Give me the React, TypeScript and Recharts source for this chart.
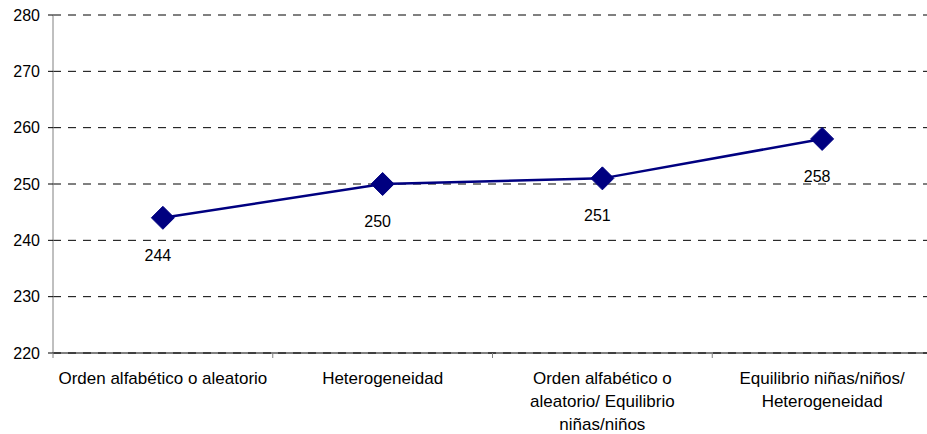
import { LineChart, Line, XAxis, YAxis, CartesianGrid, LabelList } from "recharts";

const categories = [
  "Orden alfabético o aleatorio",
  "Heterogeneidad",
  "Orden alfabético o aleatorio/ Equilibrio niñas/niños",
  "Equilibrio niñas/niños/ Heterogeneidad",
];
const tickLines = [
  ["Orden alfabético o aleatorio"],
  ["Heterogeneidad"],
  ["Orden alfabético o", "aleatorio/ Equilibrio", "niñas/niños"],
  ["Equilibrio niñas/niños/", "Heterogeneidad"],
];
const values = [244, 250, 251, 258];
const yTicks = [220, 230, 240, 250, 260, 270, 280];

const data = categories.map((name, i) => ({ name, value: values[i] }));

const CHART_W = 935;
const CHART_H = 434;
const PLOT_LEFT = 53;
const PLOT_RIGHT = 932;
const PLOT_TOP = 15;
const PLOT_BOTTOM = 353;
const BAND = (PLOT_RIGHT - PLOT_LEFT) / categories.length;
const FONT = "'Liberation Sans', Arial, sans-serif";
const NAVY = "#000080";

function CategoryTick(props: any) {
  const { x, index } = props;
  const y = PLOT_BOTTOM;
  const lines = tickLines[index] ?? [];
  return (
    <g>
      <line x1={x - BAND / 2} x2={x - BAND / 2} y1={y} y2={y + 5} stroke="#808080" />
      {lines.map((ln, i) => (
        <text
          key={i}
          x={x}
          y={y + 31 + i * 23}
          textAnchor="middle"
          fontSize={17}
          fontFamily={FONT}
          fill="#000"
        >
          {ln}
        </text>
      ))}
    </g>
  );
}

function Diamond(props: any) {
  const { cx, cy } = props;
  if (cx == null || cy == null) return null;
  const r = 11.5;
  return (
    <polygon
      points={`${cx},${cy - r} ${cx + r},${cy} ${cx},${cy + r} ${cx - r},${cy}`}
      fill={NAVY}
      stroke={NAVY}
    />
  );
}

function ValueLabel(props: any) {
  const { x, y, value } = props;
  return (
    <text
      x={x - 5}
      y={y + 43}
      textAnchor="middle"
      fontSize={16}
      fontFamily={FONT}
      fill="#000"
    >
      {value}
    </text>
  );
}

export default function App() {
  return (
    <div
      style={{
        position: "absolute",
        left: 0,
        top: 0,
        width: 927,
        height: 434,
        overflow: "hidden",
        background: "#fff",
      }}
    >
      <LineChart
        width={CHART_W}
        height={CHART_H}
        data={data}
        margin={{ top: PLOT_TOP, right: CHART_W - PLOT_RIGHT, bottom: 0, left: 0 }}
      >
        <CartesianGrid
          horizontal
          vertical={false}
          stroke="#000"
          strokeDasharray="8 7"
        />
        <XAxis
          dataKey="name"
          scale="band"
          interval={0}
          height={CHART_H - PLOT_BOTTOM}
          axisLine={{ stroke: "#000" }}
          tickLine={false}
          tickSize={0}
          tickMargin={0}
          tick={<CategoryTick />}
        />
        <YAxis
          width={PLOT_LEFT}
          domain={[220, 280]}
          ticks={yTicks}
          interval={0}
          axisLine={{ stroke: "#808080" }}
          tickLine={{ stroke: "#000" }}
          tickSize={5}
          tickMargin={8}
          tick={{ fill: "#000", fontSize: 16, fontFamily: FONT }}
        />
        <Line
          type="linear"
          dataKey="value"
          stroke={NAVY}
          strokeWidth={2.5}
          dot={<Diamond />}
          activeDot={false}
          isAnimationActive={false}
        >
          <LabelList dataKey="value" content={<ValueLabel />} />
        </Line>
      </LineChart>
    </div>
  );
}
